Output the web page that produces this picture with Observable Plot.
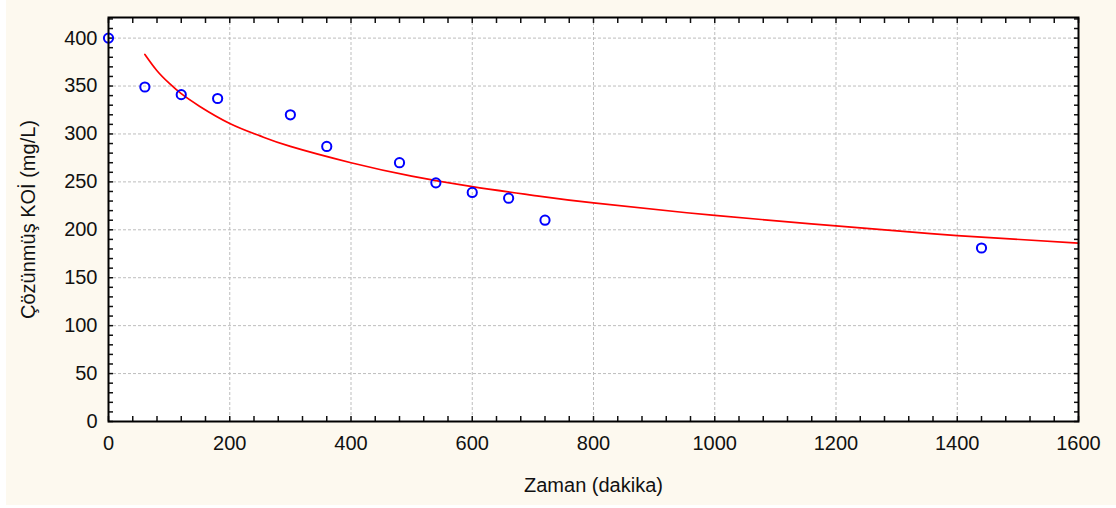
<!DOCTYPE html>
<html>
<head>
<meta charset="utf-8">
<script src="https://cdn.jsdelivr.net/npm/d3@7"></script>
<script src="https://cdn.jsdelivr.net/npm/@observablehq/plot@0.6"></script>
<style>
  html, body { margin: 0; padding: 0; background: #ffffff; }
  #wrap { position: absolute; left: 6px; top: 0px; width: 1110px; height: 505px; background: #fdf9ef; }
  #wrap svg { display: block; }
</style>
</head>
<body>
<div id="wrap"></div>
<script>
// Observed data (time in minutes, soluble COD in mg/L)
const times = [0, 60, 120, 180, 300, 360, 480, 540, 600, 660, 720, 1440];
const cod = [400, 349, 341, 337, 320, 287, 270, 249, 239, 233, 210, 181];

// Fitted curve
const fitTimes = [60, 80, 100, 120, 150, 200, 250, 300, 400, 500, 600, 700, 800, 1000, 1200, 1400, 1600];
const fitCod = [383, 366, 353, 342, 329, 311, 298, 287, 270, 256, 245, 236, 228, 215, 204, 194, 186];

const xMajor = [0, 200, 400, 600, 800, 1000, 1200, 1400, 1600];
const yMajor = [0, 50, 100, 150, 200, 250, 300, 350, 400];
const xGrid = [200, 400, 600, 800, 1000, 1200, 1400];
const yGrid = [50, 100, 150, 200, 250, 300, 350, 400];
const xMinor = d3.range(0, 1601, 40);
const yMinor = d3.range(0, 421, 10);

const points = times.map((t, i) => ({t, c: cod[i]}));
const fit = fitTimes.map((t, i) => ({t, c: fitCod[i]}));

const font = "'Liberation Sans', Arial, sans-serif";

const chart = Plot.plot({
  width: 1110,
  height: 505,
  marginLeft: 102,
  marginRight: 38,
  marginTop: 17,
  marginBottom: 84,
  style: {background: "transparent", fontFamily: font, fontSize: "20px", color: "#111"},
  x: {domain: [0, 1600]},
  y: {domain: [0, 421.5]},
  marks: [
    Plot.frame({fill: "white", stroke: "none"}),
    Plot.gridX(xGrid, {stroke: "#bdbdbd", strokeOpacity: 1, strokeDasharray: "3,2"}),
    Plot.gridY(yGrid, {stroke: "#bdbdbd", strokeOpacity: 1, strokeDasharray: "3,2"}),
    Plot.axisX(xMinor, {anchor: "bottom", tickSize: -5, text: null, label: null, strokeWidth: 1.5}),
    Plot.axisX(xMinor, {anchor: "top", tickSize: -5, text: null, label: null, strokeWidth: 1.5}),
    Plot.axisY(yMinor, {anchor: "left", tickSize: -5, text: null, label: null, strokeWidth: 1.5}),
    Plot.axisY(yMinor, {anchor: "right", tickSize: -5, text: null, label: null, strokeWidth: 1.5}),
    Plot.axisX(xMajor, {anchor: "bottom", tickSize: 0, tickPadding: 14, fontSize: 20, tickFormat: d => String(d), label: "Zaman (dakika)", labelAnchor: "center", labelArrow: "none", labelOffset: 70}),
    Plot.axisY(yMajor, {anchor: "left", tickSize: 0, tickPadding: 11, fontSize: 20, tickFormat: d => String(d), label: "Çözünmüş KOİ (mg/L)", labelAnchor: "center", labelArrow: "none", labelOffset: 88}),
    Plot.line(fit, {x: "t", y: "c", stroke: "#ff0000", strokeWidth: 1.7, curve: "natural"}),
    Plot.dot(points, {x: "t", y: "c", r: 4.6, stroke: "#0000ff", strokeWidth: 2, fill: "none"}),
    Plot.frame({stroke: "black", strokeWidth: 2})
  ]
});
document.getElementById("wrap").appendChild(chart);
</script>
</body>
</html>
